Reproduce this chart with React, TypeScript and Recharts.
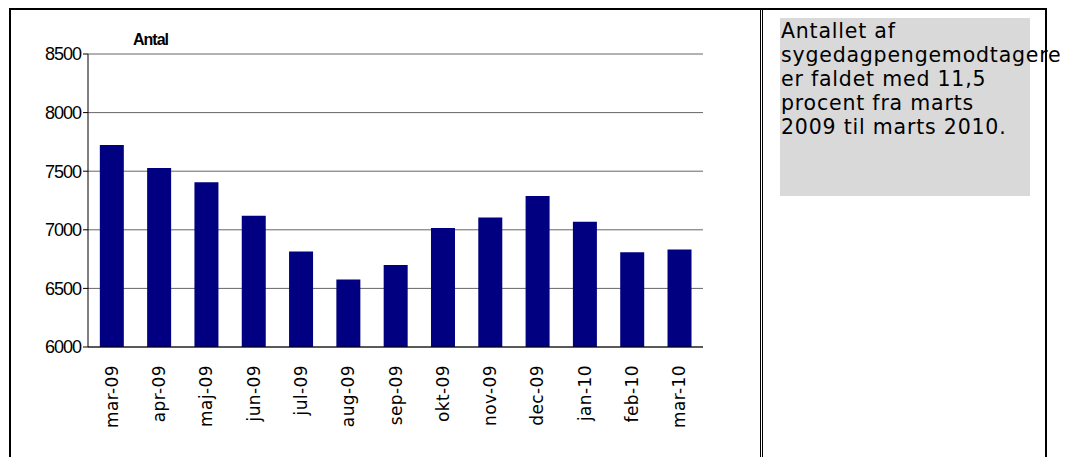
import { BarChart, Bar, XAxis, YAxis, CartesianGrid } from 'recharts'

const months = ['mar-09', 'apr-09', 'maj-09', 'jun-09', 'jul-09', 'aug-09', 'sep-09', 'okt-09', 'nov-09', 'dec-09', 'jan-10', 'feb-10', 'mar-10']
const antal = [7723, 7527, 7405, 7120, 6815, 6575, 6700, 7015, 7105, 7288, 7068, 6808, 6832]
const yTicks = [6000, 6500, 7000, 7500, 8000, 8500]

const data = months.map((m, i) => ({ month: m, antal: antal[i] }))

function MonthTick({ x, y, payload }: any) {
  return (
    <text
      x={x}
      y={y}
      transform={`rotate(-90 ${x} ${y}) translate(-10 6)`}
      textAnchor="end"
      fontFamily="DejaVu Sans"
      fontSize={17}
      letterSpacing={0.4}
      fill="#000"
    >
      {payload.value}
    </text>
  )
}

export default function App() {
  return (
    <div style={{ position: 'absolute', left: 0, top: 0, width: 1083, height: 457, background: '#fff', overflow: 'hidden' }}>
      {/* frame */}
      <div style={{ position: 'absolute', left: 9, top: 8, width: 1038, height: 470, border: '2px solid #000', boxSizing: 'border-box' }} />
      <div style={{ position: 'absolute', left: 760, top: 8, width: 3, height: 460, borderLeft: '1px solid #000', borderRight: '1px solid #000', boxSizing: 'border-box' }} />

      <div style={{ position: 'absolute', left: 0, top: 0 }}>
        <BarChart width={720} height={457} data={data} margin={{ top: 54, right: 17, bottom: 0, left: 0 }} barCategoryGap="25%">
          <CartesianGrid vertical={false} stroke="#666" />
          <XAxis dataKey="month" tick={<MonthTick />} tickLine={false} axisLine={{ stroke: '#000' }} interval={0} height={110} />
          <YAxis
            domain={[6000, 8500]}
            ticks={yTicks}
            width={88}
            axisLine={{ stroke: '#000' }}
            tickLine={{ stroke: '#000' }}
            tickSize={5}
            tick={{ fill: '#000', fontSize: 18, fontFamily: 'Liberation Sans', letterSpacing: -1 }}
          />
          <Bar dataKey="antal" fill="#000080" isAnimationActive={false} />
        </BarChart>
      </div>

      <div style={{ position: 'absolute', left: 133, top: 31, fontFamily: 'Liberation Sans', fontWeight: 'bold', fontSize: 16, letterSpacing: -1 }}>Antal</div>

      <div style={{ position: 'absolute', left: 780, top: 18, width: 250, height: 178, background: '#d9d9d9' }} />
      <div style={{ position: 'absolute', left: 781, top: 19, fontFamily: 'DejaVu Sans', fontSize: 20.5, letterSpacing: 0.8, lineHeight: '24px', color: '#000', whiteSpace: 'nowrap' }}>
        Antallet af<br />sygedagpengemodtagere<br />er faldet med 11,5<br />procent fra marts<br />2009 til marts 2010.
      </div>
    </div>
  )
}
